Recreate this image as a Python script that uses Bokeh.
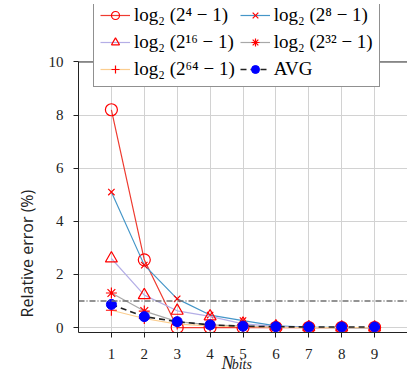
import math
from bokeh.plotting import figure
from bokeh.models import (Range1d, FixedTicker, Span, Legend, LegendItem,
                          BoxAnnotation, LinearAxis)
from bokeh.embed import file_html
from bokeh.resources import INLINE

# ---- data ----
n_bits = [1, 2, 3, 4, 5, 6, 7, 8, 9]
err_4 = [8.2, 2.55, 0.0, 0.0, 0.0, 0.0, 0.0, 0.0, 0.0]
err_8 = [5.1, 2.35, 1.08, 0.47, 0.26, 0.06, 0.02, 0.0, 0.0]
err_16 = [2.6, 1.22, 0.63, 0.42, 0.14, 0.04, 0.01, 0.0, 0.0]
err_32 = [1.3, 0.62, 0.22, 0.1, 0.05, 0.02, 0.0, 0.0, 0.0]
err_64 = [0.65, 0.34, 0.13, 0.06, 0.03, 0.01, 0.0, 0.0, 0.0]
err_avg = [0.87, 0.41, 0.22, 0.1, 0.05, 0.03, 0.02, 0.02, 0.02]

labels = ["log₂ (2⁴ − 1)", "log₂ (2⁸ − 1)", "log₂ (2¹⁶ − 1)",
          "log₂ (2³² − 1)", "log₂ (2⁶⁴ − 1)", "AVG"]
x_ticks = [1, 2, 3, 4, 5, 6, 7, 8, 9]
y_ticks = [0, 2, 4, 6, 8, 10]
y_max = 10
y_title = "Relative error (%)"

SERIF = "Liberation Serif"
INK = "#222222"

# frame spans page y 4..335; y=10 sits at y=62, y=0 at y=330
y_lo = -0.187
y_hi = 12.164

p = figure(width=407, height=385, output_backend="svg", toolbar_location=None,
           x_range=Range1d(0, 10), y_range=Range1d(y_lo, y_hi),
           min_border_left=78, min_border_top=4, min_border_right=0,
           min_border_bottom=40)
p.outline_line_color = None
p.background_fill_color = "white"
p.border_fill_color = "white"

# axes
for ax in (p.xaxis[0], p.yaxis[0]):
    ax.major_tick_out = 5
    ax.major_tick_in = 0
    ax.minor_tick_line_color = None
    ax.axis_line_color = INK
    ax.major_tick_line_color = INK
    ax.major_label_text_font = SERIF
    ax.major_label_text_font_size = "15px"
    ax.major_label_text_color = INK
p.xaxis.ticker = FixedTicker(ticks=x_ticks)
p.yaxis.ticker = FixedTicker(ticks=y_ticks)
p.yaxis.bounds = (y_lo, y_max)
p.xaxis.major_label_standoff = 11
p.yaxis.major_label_standoff = 10

def label_axis(pos, text, font, size, standoff, style="normal", angle=0):
    return LinearAxis(ticker=FixedTicker(ticks=[pos]),
                      major_label_overrides={pos: text},
                      axis_line_color=None, major_tick_line_color=None,
                      minor_tick_line_color=None, major_tick_out=0, major_tick_in=0,
                      major_label_standoff=standoff, major_label_orientation=angle,
                      major_label_text_font=font, major_label_text_font_style=style,
                      major_label_text_font_size=size, major_label_text_color=INK)

# y title, centred like the reference (below the frame centre)
p.add_layout(label_axis(5.19, y_title, "Open Sans", "16px", 18, angle=math.pi / 2), "left")
# x title N_bits
p.add_layout(label_axis(4.71, "N", SERIF, "18px", 1, style="italic"), "below")
p.add_layout(label_axis(5.27, "bits", SERIF, "14px", -21, style="italic"), "below")

p.xgrid.ticker = FixedTicker(ticks=x_ticks)
p.ygrid.ticker = FixedTicker(ticks=y_ticks)
p.xgrid.grid_line_color = "#d2d2d2"
p.ygrid.grid_line_color = "#d2d2d2"

# blank area above the axis box, its top edge, and the reference line
p.add_layout(BoxAnnotation(bottom=y_max, fill_color="white", fill_alpha=1,
                           line_color=None, level="underlay"))
p.add_layout(Span(location=y_max, dimension="width", line_color=INK, line_width=1))
p.add_layout(Span(location=1, dimension="width", line_color="#707070",
                  line_width=1.3, line_dash="6 2 1 2"))

series = [
    (err_4, "#ee3b30", "circle", 12),
    (err_8, "#4596c8", "x", 9),
    (err_16, "#b4aee6", "triangle", 12),
    (err_32, "#a8a8a8", "asterisk", 11),
    (err_64, "#fbcd8e", "cross", 11),
]
items = []
for (vals, lc, mk, sz), lab in zip(series, labels[:5]):
    lr = p.line(n_bits, vals, line_color=lc, line_width=1.2)
    hollow = mk in ("circle", "triangle")
    sr = p.scatter(n_bits, vals, marker=mk, size=sz, line_color="red",
                   fill_color="white" if hollow else "red",
                   fill_alpha=0 if hollow else 1, line_width=1.2)
    items.append(LegendItem(label=lab, renderers=[lr, sr]))

lr = p.line(n_bits, err_avg, line_color=INK, line_width=1.6, line_dash="6 4")
sr = p.scatter(n_bits, err_avg, marker="circle", size=10, line_color="blue",
               fill_color="blue")
items.append(LegendItem(label=labels[5], renderers=[lr, sr]))

legend = Legend(items=items, location=(15, 245), orientation="horizontal", ncols=2,
                label_text_font=SERIF, label_text_font_size="19px",
                label_text_color="black", label_standoff=4,
                glyph_width=30, glyph_height=20, label_height=20,
                spacing=5, padding=6, margin=0,
                border_line_color=INK, border_line_width=1,
                background_fill_color="white", background_fill_alpha=1)
p.add_layout(legend)

open("out.html", "w").write(file_html(p, INLINE))
